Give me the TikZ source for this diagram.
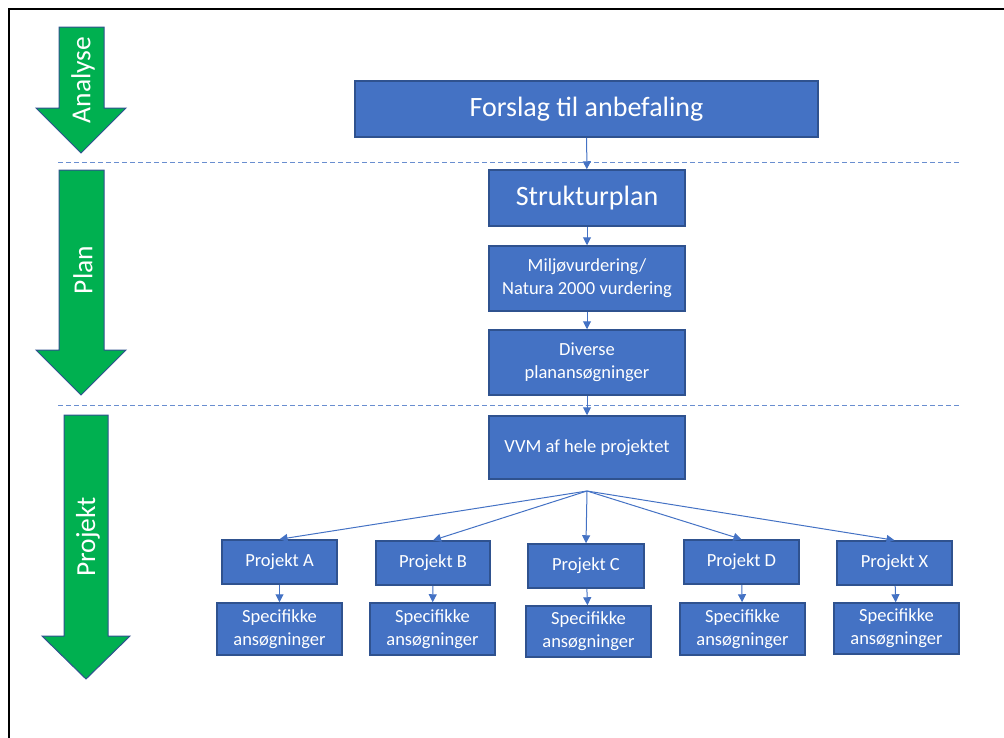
\documentclass[tikz,border=0pt]{standalone}
\usepackage{fontspec}
\setmainfont{Carlito}
\usetikzlibrary{arrows.meta}

\definecolor{boxblue}{HTML}{4472C4}
\definecolor{boxedge}{HTML}{2F528F}
\definecolor{phasegreen}{HTML}{00B050}

\tikzset{
  box/.style={draw=boxedge, line width=1.5pt, fill=boxblue, text=white, align=center,
    inner sep=0pt, font=\fontsize{18.5}{23}\selectfont},
  bigbox/.style={box, font=\fontsize{28}{33}\selectfont},
  link/.style={draw=boxblue, line width=1pt, -{Triangle[length=8pt,width=8pt]}},
  phase/.style={draw=boxedge, line width=1pt, fill=phasegreen},
  phaselabel/.style={text=white, rotate=90, inner sep=0pt, font=\fontsize{27.5}{32}\selectfont},
  divider/.style={draw=boxblue!80, line width=1pt, dash pattern=on 5pt off 3pt}
}

\begin{document}
\begin{tikzpicture}[x=1pt,y=-1pt]
        \useasboundingbox (0,0) rectangle (1004,737);
        \draw[line width=2pt] (9,745) -- (9,9) -- (1010,9);

        % phase arrows
        \draw[phase] (59,27) -- (104,27) -- (104,108) -- (126,108) -- (81,153) -- (36,108) -- (59,108) -- cycle;
        \draw[phase] (59,170) -- (104,170) -- (104,350) -- (126,350) -- (81,395) -- (36,350) -- (59,350) -- cycle;
        \draw[phase] (64,415) -- (108,415) -- (108,636) -- (130,636) -- (86,679) -- (42,636) -- (64,636) -- cycle;

        \node[phaselabel] (analyse) at (83,80) {Analyse};
        \node[phaselabel] (plan) at (83,270) {Plan};
        \node[phaselabel] (projekt) at (88,537) {Projekt};

        % dividers
        \draw[divider] (58,162) -- (960,162);
        \draw[divider] (58,405) -- (960,405);

        % main chain
        \node[bigbox, minimum width=463pt, minimum height=56pt] (forslag) at (586.5,109) {Forslag til anbefaling};
        \node[bigbox, minimum width=196pt, minimum height=56pt] (struktur) at (587,198) {Strukturplan};
        \node[box, minimum width=196pt, minimum height=65pt] (miljo) at (587,278.5) {Miljøvurdering/\\Natura 2000 vurdering};
        \node[box, minimum width=196pt, minimum height=65pt] (diverse) at (587,362.5) {Diverse\\planansøgninger};
        \node[box, minimum width=196pt, minimum height=63pt] (vvm) at (587,447.5) {VVM af hele projektet};
        \coordinate (fan) at (587,491);

        \draw[link] (forslag) -- (struktur);
        \draw[link] (struktur) -- (miljo);
        \draw[link] (miljo) -- (diverse);
        \draw[link] (diverse) -- (vvm);

        % projects
        \node[box, minimum width=115pt, minimum height=44pt] (pa) at (279.5,562) {Projekt A};
        \node[box, minimum width=114pt, minimum height=44pt] (pb) at (433,563) {Projekt B};
        \node[box, minimum width=116pt, minimum height=44pt] (pc) at (586,566) {Projekt C};
        \node[box, minimum width=115pt, minimum height=44pt] (pd) at (741.5,562) {Projekt D};
        \node[box, minimum width=115pt, minimum height=44pt] (px) at (894.5,563) {Projekt X};

        \node[box, minimum width=125pt, minimum height=52pt] (sa) at (279.5,629) {Specifikke\\ansøgninger};
        \node[box, minimum width=125pt, minimum height=52pt] (sb) at (432.5,629) {Specifikke\\ansøgninger};
        \node[box, minimum width=125pt, minimum height=51pt] (sc) at (588.5,631.5) {Specifikke\\ansøgninger};
        \node[box, minimum width=125pt, minimum height=52pt] (sd) at (742.5,629) {Specifikke\\ansøgninger};
        \node[box, minimum width=125pt, minimum height=51pt] (sx) at (896.5,628.5) {Specifikke\\ansøgninger};

        \foreach \p in {pa,pb,pc,pd,px}
          \draw[link] (fan) -- (\p.north);
        \draw[link] (pa) -- (sa);
        \draw[link] (pb) -- (sb);
        \draw[link] (pc) -- (sc);
        \draw[link] (pd) -- (sd);
        \draw[link] (px) -- (sx);
    \end{tikzpicture}
\end{document}
